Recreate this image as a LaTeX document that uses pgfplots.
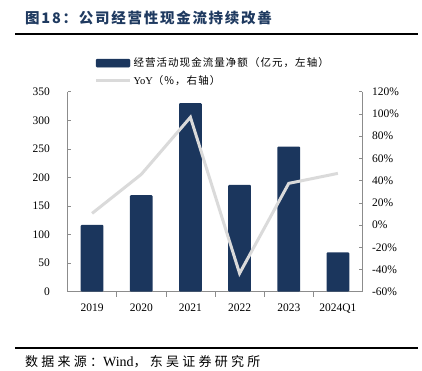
\documentclass[border=0pt]{standalone}
\usepackage{fontspec}
\setmainfont{Liberation Serif}
\newfontfamily\cjktitle[LetterSpace=12]{Noto Sans CJK SC}
\newfontfamily\cjkleg[LetterSpace=10]{Noto Sans CJK SC}
\newfontfamily\cjksrc[LetterSpace=25]{Noto Sans CJK SC}
\usepackage{pgfplots}
\pgfplotsset{compat=1.18}
\definecolor{barblue}{HTML}{1B365D}
\definecolor{linegray}{HTML}{DADADA}
\definecolor{axgray}{HTML}{8C8C8C}
\definecolor{titleblue}{HTML}{1F3A60}
\pgfplotsset{
  barleg/.style={legend image code/.code={\fill[barblue, rounded corners=1pt] (0pt,-4pt) rectangle (34pt,4pt);}},
  lineleg/.style={legend image code/.code={\draw[linegray, line width=3pt] (0pt,0pt) -- (34pt,0pt);}},
}
\begin{document}
\begin{tikzpicture}
\useasboundingbox (0,0) rectangle (422pt,370pt);
\node[anchor=west, text=titleblue, font=\cjktitle\bfseries\fontsize{14.5}{17}\selectfont, inner sep=0] at (25pt,352pt) {图18：公司经营性现金流持续改善};
\draw[line width=2pt, black] (15pt,335.5pt) -- (418pt,335.5pt);
\draw[line width=2pt, black] (15pt,22pt) -- (418pt,22pt);
\node[anchor=west, font=\cjksrc\fontsize{13}{15}\selectfont, inner sep=0] at (25pt,8.5pt) {数据来源：{\rmfamily\fontsize{14}{15}\selectfont Wind}，东吴证券研究所};

\begin{axis}[at={(67.5pt,78.3pt)}, anchor=south west,
  width=295pt, height=200pt, scale only axis,
  xmin=-0.5, xmax=5.5, ymin=0, ymax=350, ytick={0,50,...,350},
  xtick={0,...,5}, xticklabels={2019,2020,2021,2022,2023,2024Q1},
  minor xtick={0.5,1.5,...,4.5},
  major x tick style={draw=none},
  axis x line*=bottom, axis y line*=left,
  axis line style={axgray, line width=0.8pt},
  tick align=inside, major tick length=3pt, minor tick length=5pt,
  tick style={axgray, line width=0.6pt},
  tick label style={font=\fontsize{11.5}{13}\selectfont},
  /pgf/number format/assume math mode=true,
  yticklabel style={xshift=-14pt},
  xticklabel style={yshift=-6pt},
  ybar, bar width=22.7pt,
]
\addplot[fill=barblue, draw=none, rounded corners=1pt] coordinates {(0,117) (1,169) (2,330) (3,187) (4,254) (5,69)};
\end{axis}

\begin{axis}[at={(67.5pt,78.3pt)}, anchor=south west,
  width=295pt, height=200pt, scale only axis,
  xmin=-0.5, xmax=5.5, ymin=-60, ymax=120, ytick={-60,-40,...,120},
  hide x axis, axis y line*=right,
  axis line style={axgray, line width=0.8pt},
  tick align=inside, major tick length=3pt,
  tick style={axgray, line width=0.6pt},
  tick label style={font=\fontsize{11.5}{13}\selectfont},
  /pgf/number format/assume math mode=true,
  yticklabel={\pgfmathprintnumber{\tick}\%},
  yticklabel style={xshift=6pt},
  legend style={draw=none, fill=none, at={(0.091,1.18)}, anchor=north west,
    inner sep=0pt, row sep=3pt, font=\cjkleg\fontsize{10.5}{12}\selectfont},
  legend cell align=left,
]
\addlegendimage{barleg}
\addlegendentry{经营活动现金流量净额（亿元，左轴）}
\addplot[linegray, line width=3pt, lineleg] coordinates {(0,10.5) (1,45.6) (2,97) (3,-43.5) (4,37.5) (5,46.5)};
\addlegendentry{{\rmfamily YoY}（\%，右轴）}
\end{axis}
\end{tikzpicture}
\end{document}
